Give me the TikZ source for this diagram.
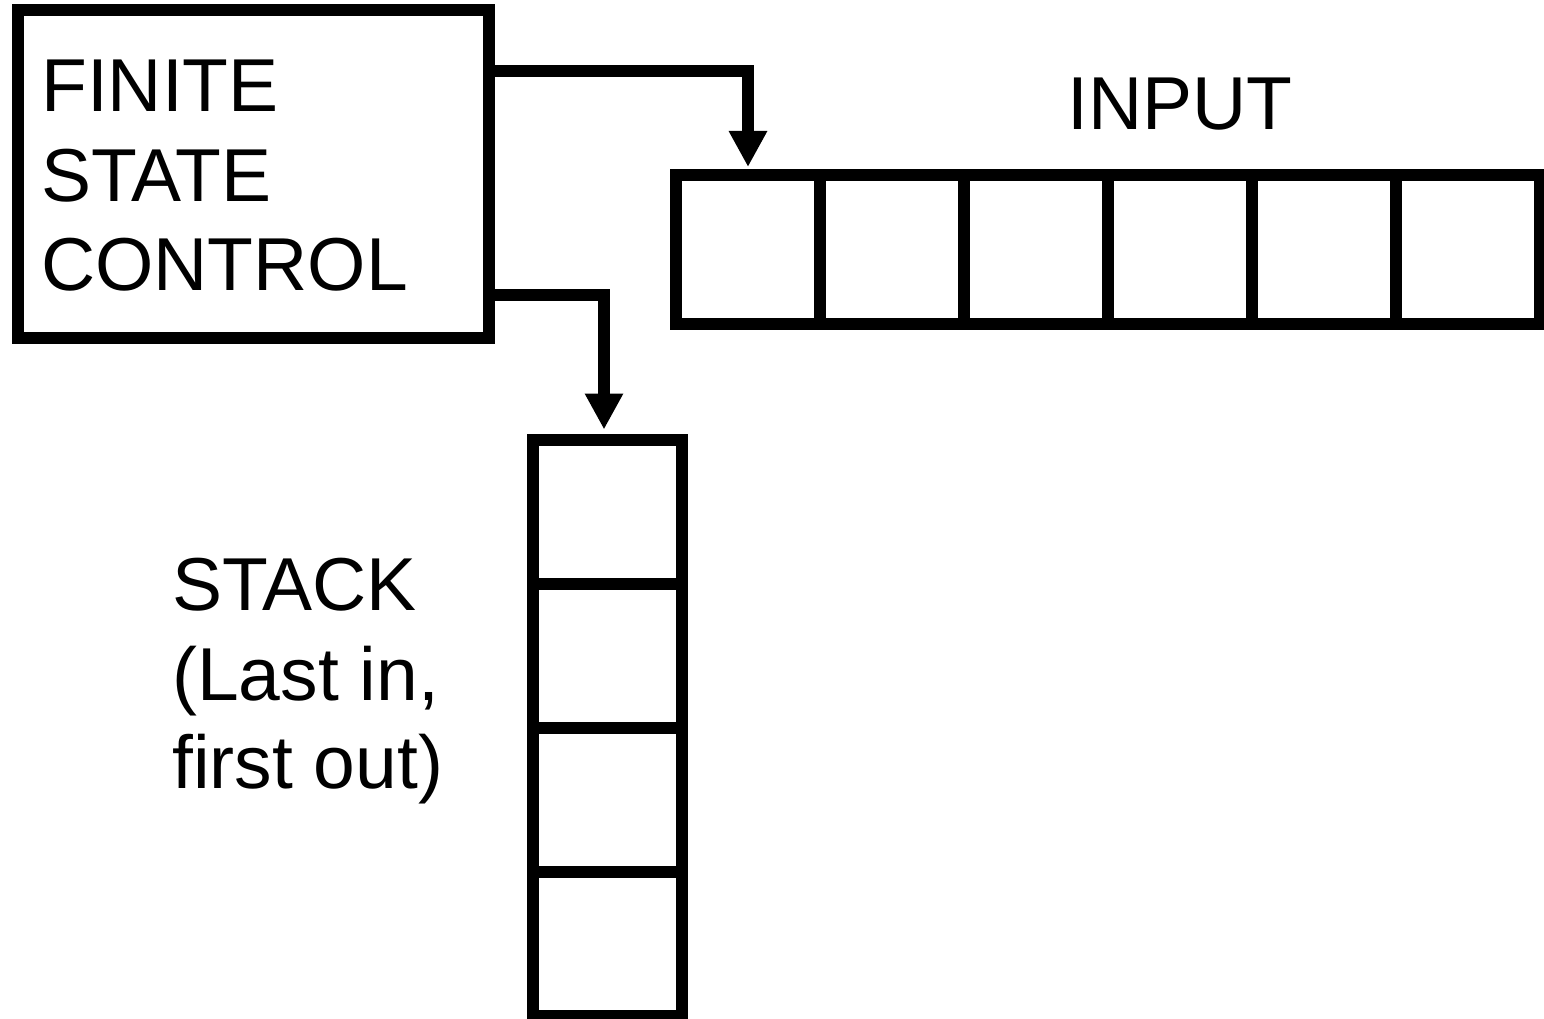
\documentclass[tikz,border=0pt]{standalone}
\usepackage{fontspec}
\setmainfont{Liberation Sans}
\usetikzlibrary{arrows.meta}
\begin{document}
\begin{tikzpicture}[x=1pt,y=-1pt,
  thick line/.style={line width=12pt},
  cellbox/.style={draw,thick line,minimum width=144pt,minimum height=149pt,inner sep=0pt,anchor=center},
  stackcell/.style={draw,thick line,minimum width=149pt,minimum height=144pt,inner sep=0pt,anchor=center},
  conn/.style={thick line,line join=miter,-{Triangle[width=36pt,length=36pt]}},
  lbl/.style={inner sep=0pt,anchor=base west,font=\fontsize{75}{89}\selectfont}]
\useasboundingbox (0,0) rectangle (1544,1019);
% finite state control
\node[draw,thick line,minimum width=471.5pt,minimum height=327.5pt,inner sep=0pt] (fsc) at (253.25,173.75) {};
\node[lbl] (f1) at (41,112) {FINITE};
\node[lbl] (f2) at (41,202) {STATE};
\node[lbl] (f3) at (41,290) {CONTROL};
% input tape
\foreach \i/\x in {1/748,2/892,3/1036,4/1180,5/1324,6/1468}
  \node[cellbox] (in\i) at (\x,249.5) {};
\node[lbl] (inputlbl) at (1067,130) {INPUT};
% stack
\foreach \i/\y in {1/511.5,2/656,3/800,4/944}
  \node[stackcell] (st\i) at (607.5,\y) {};
\node[lbl] (s1) at (172,610) {STACK};
\node[lbl] (s2) at (172,700) {(Last in,};
\node[lbl] (s3) at (172,788) {first out)};
% connectors
\coordinate (t1) at (489,71);
\coordinate (t2) at (489,295);
\draw[conn] (t1) -| ([yshift=2pt]in1.north);
\draw[conn] (t2) -| ([xshift=-3.5pt,yshift=4pt]st1.north);
\end{tikzpicture}
\end{document}
